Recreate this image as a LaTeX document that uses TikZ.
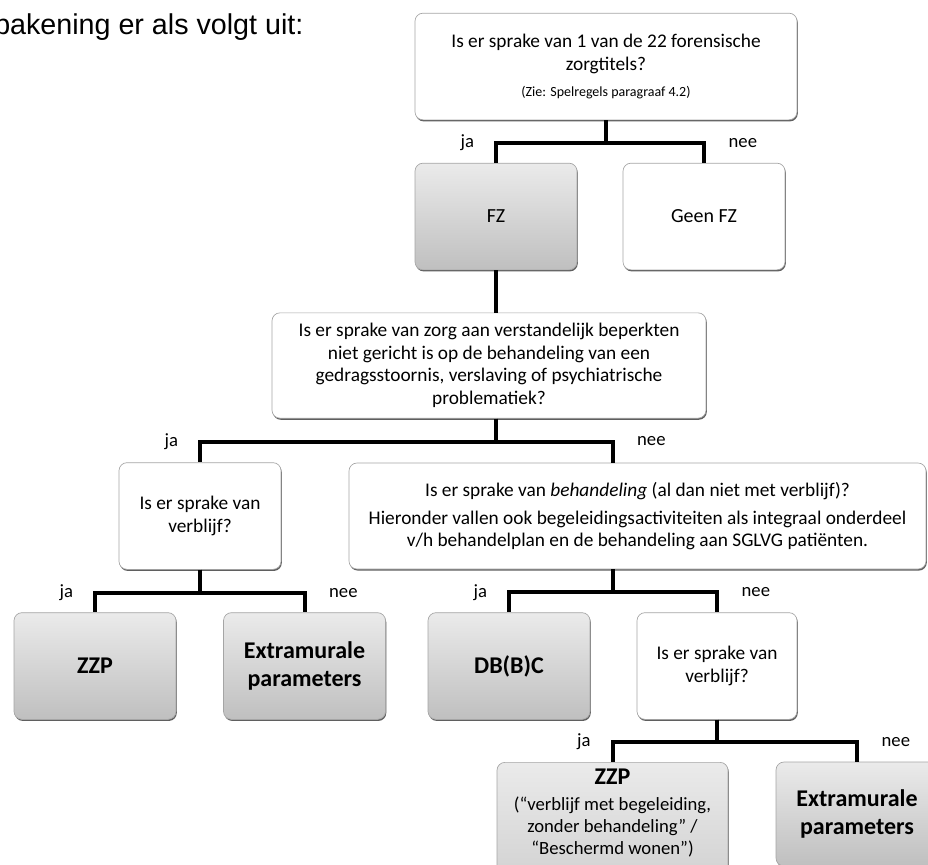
\documentclass[tikz,border=0pt]{standalone}
\usepackage{fontspec}
\setmainfont{Carlito}
\newfontfamily\arialfont{Liberation Sans}
\usetikzlibrary{shadows,calc}

\definecolor{randgrijs}{RGB}{165,165,165}
\definecolor{schaduw}{RGB}{95,95,95}

\tikzstyle{vraag} = [rectangle, rounded corners=6pt, draw=randgrijs, line width=0.5pt, fill=white, align=center, inner sep=2pt, font=\fontsize{14.5}{17}\selectfont, drop shadow={shadow xshift=0.6pt, shadow yshift=-1.2pt, opacity=1, fill=schaduw}]
\tikzstyle{uitkomst} = [vraag, top color=black!8, bottom color=black!25, font=\bfseries\fontsize{18}{21}\selectfont]
\tikzstyle{smal} = [minimum width=121.5pt, minimum height=80pt]
\tikzstyle{lijn} = [line width=3pt]
\tikzstyle{jalabel} = [midway, anchor=east, xshift=-15pt, inner sep=0pt, font=\fontsize{14}{14}\selectfont]
\tikzstyle{neelabel} = [midway, anchor=west, xshift=17pt, inner sep=0pt, font=\fontsize{14}{14}\selectfont]

\begin{document}
\begin{tikzpicture}[x=0.75pt, y=-0.75pt]
\useasboundingbox (0,0) rectangle (928,864);

\node (kop) [anchor=base west, inner sep=0pt, font=\arialfont\fontsize{21.5}{21.5}\selectfont] at (-6,34) {bakening er als volgt uit:};

% eerste vraag
\node (titel) [vraag, minimum width=286.5pt, minimum height=80pt] at (606,66.5) {Is er sprake van 1 van de 22 forensische\\ zorgtitels?\\[3pt] {\fontsize{10.5}{12}\selectfont (Zie: Spelregels paragraaf 4.2)}};
\node (fz) [uitkomst, smal, font=\fontsize{15}{18}\selectfont] at (496,216.5) {FZ};
\node (geenfz) [vraag, smal, font=\fontsize{15}{18}\selectfont] at (704,216.5) {Geen FZ};

% tweede en derde laag
\node (verstand) [vraag, minimum width=325.5pt, minimum height=79pt] at (489,365.5) {Is er sprake van zorg aan verstandelijk beperkten\\ niet gericht is op de behandeling van een\\ gedragsstoornis, verslaving of psychiatrische\\ problematiek?};
\node (verblijf1) [vraag, smal] at (200,516) {Is er sprake van\\ verblijf?};
\node (behandeling) [vraag, minimum width=432.75pt, minimum height=79.5pt] at (637.5,516) {Is er sprake van \textit{behandeling} (al dan niet met verblijf)?\\[4pt] Hieronder vallen ook begeleidingsactiviteiten als integraal onderdeel\\ v/h behandelplan en de behandeling aan SGLVG patiënten.};

% uitkomsten
\node (zzp1) [uitkomst, smal] at (95,666) {ZZP};
\node (extra1) [uitkomst, smal] at (304.5,666) {Extramurale\\ parameters};
\node (dbbc) [uitkomst, smal] at (509,666) {DB(B)C};
\node (verblijf2) [vraag, smal, minimum width=120pt] at (717,666) {Is er sprake van\\ verblijf?};
\node (zzp2) [uitkomst, anchor=north, minimum width=173.25pt, inner ysep=5pt, text depth=80pt, font=\fontsize{14}{16.5}\selectfont] at (612.5,762) {{\bfseries\fontsize{18}{21}\selectfont ZZP}\\[3pt] (“verblijf met begeleiding,\\ zonder behandeling” /\\ “Beschermd wonen”)};
\node (extra2) [uitkomst, smal, minimum height=78pt] at (857,814) {Extramurale\\ parameters};

\draw [lijn] (titel.south) -- ++(0,23) -| node [jalabel] {ja} (fz.north);
\draw [lijn] (titel.south) -- ++(0,23) -| node [neelabel] {nee} (geenfz.north);
\draw [lijn] (fz.south) -- (fz.south |- verstand.north);
\draw [lijn] (verstand.south -| fz.south) -- ++(0,23) -| node [jalabel] {ja} (verblijf1.north);
\draw [lijn] (verstand.south -| fz.south) -- ++(0,23) -| node [neelabel] {nee} ($(behandeling.north)+(-25,0)$);
\draw [lijn] (verblijf1.south) -- ++(0,23) -| node [jalabel] {ja} (zzp1.north);
\draw [lijn] (verblijf1.south) -- ++(0,23) -| node [neelabel] {nee} (extra1.north);
\draw [lijn] ($(behandeling.south)+(-25,0)$) -- ++(0,23) -| node [jalabel] {ja} (dbbc.north);
\draw [lijn] ($(behandeling.south)+(-25,0)$) -- ++(0,23) -| node [neelabel] {nee} (verblijf2.north);
\draw [lijn] (verblijf2.south) -- ++(0,22) -| node [jalabel] {ja} (zzp2.north);
\draw [lijn] (verblijf2.south) -- ++(0,22) -| node [neelabel] {nee} (extra2.north);
\end{tikzpicture}
\end{document}
